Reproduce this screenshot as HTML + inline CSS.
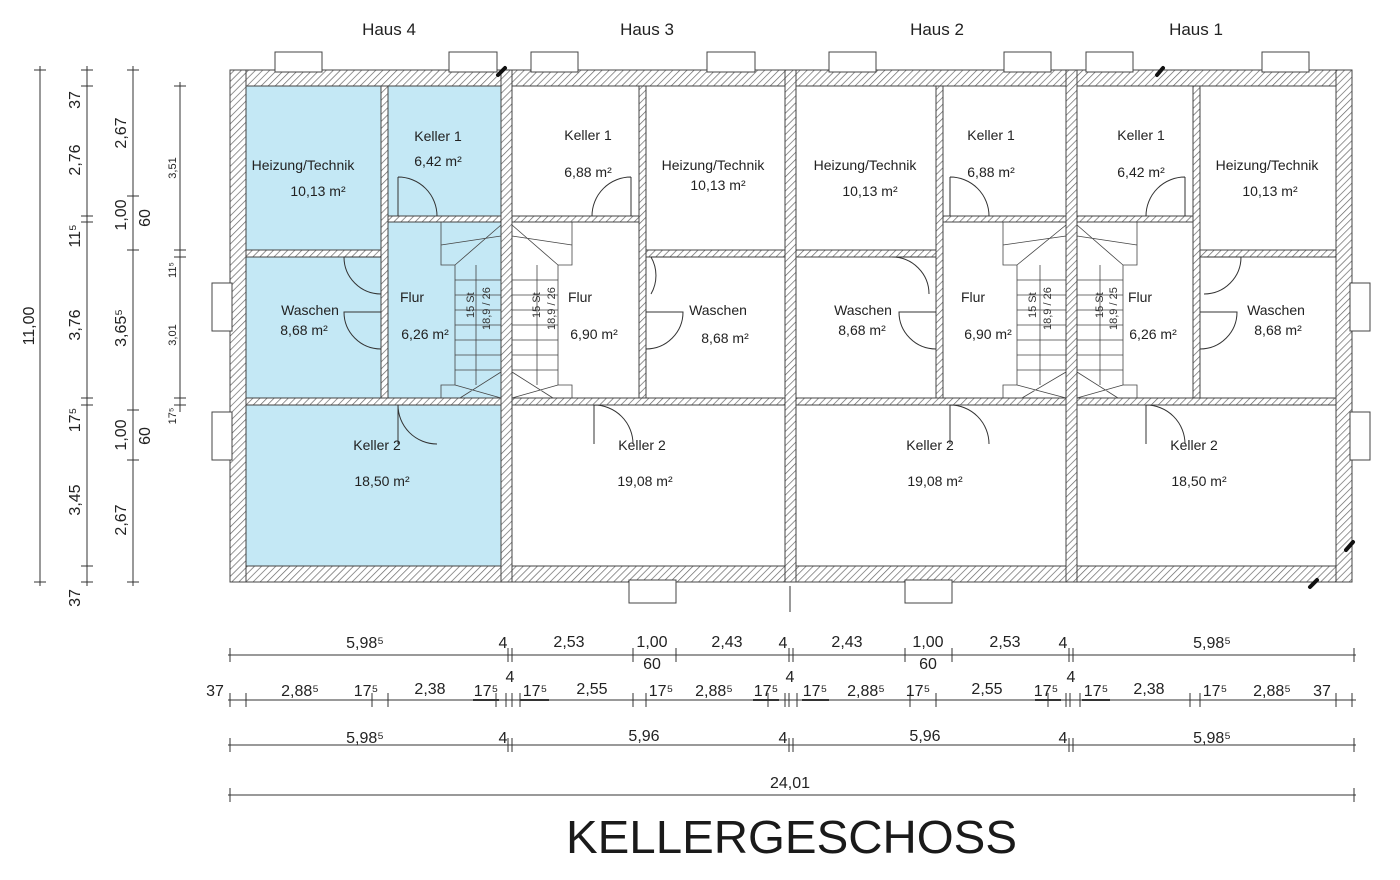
<!DOCTYPE html>
<html><head><meta charset="utf-8"><style>
body{margin:0;background:#fff;}
svg{display:block;font-family:"Liberation Sans",sans-serif;}
</style></head><body>
<svg width="1400" height="880" viewBox="0 0 1400 880">
<defs>
<pattern id="h" width="5" height="5" patternUnits="userSpaceOnUse" patternTransform="rotate(45)">
<rect width="5" height="5" fill="#fff"/><line x1="0" y1="0" x2="0" y2="5" stroke="#666" stroke-width="1.4"/>
</pattern>
</defs>
<rect x="230" y="70" width="272" height="512" fill="#c4e8f5"/>
<g fill="url(#h)" stroke="#444" stroke-width="1">
<rect x="230" y="70" width="1122" height="16"/>
<rect x="230" y="566" width="1122" height="16"/>
<rect x="230" y="70" width="16" height="512"/>
<rect x="1336" y="70" width="16" height="512"/>
<rect x="501" y="70" width="11" height="512"/>
<rect x="785" y="70" width="11" height="512"/>
<rect x="1066" y="70" width="11" height="512"/>
<rect x="381" y="86" width="7" height="319"/>
<rect x="388" y="216" width="113" height="6"/>
<rect x="246" y="250" width="135" height="7"/>
<rect x="246" y="398" width="255" height="7"/>
<rect x="639" y="86" width="7" height="319"/>
<rect x="512" y="216" width="127" height="6"/>
<rect x="646" y="250" width="139" height="7"/>
<rect x="512" y="398" width="273" height="7"/>
<rect x="936" y="86" width="7" height="319"/>
<rect x="943" y="216" width="123" height="6"/>
<rect x="796" y="250" width="140" height="7"/>
<rect x="796" y="398" width="270" height="7"/>
<rect x="1193" y="86" width="7" height="319"/>
<rect x="1077" y="216" width="116" height="6"/>
<rect x="1200" y="250" width="136" height="7"/>
<rect x="1077" y="398" width="259" height="7"/>
</g>
<g stroke="#111" stroke-width="4" stroke-linecap="round">
<path d="M498 75 L505 68 M1157 75 L1163 68 M1346 550 L1353 542 M1310 587 L1317 580"/>
</g>
<g fill="#fff" stroke="#444" stroke-width="1">
<rect x="275" y="52" width="47" height="20"/><rect x="449" y="52" width="48" height="20"/>
<rect x="531" y="52" width="47" height="20"/><rect x="707" y="52" width="48" height="20"/>
<rect x="829" y="52" width="47" height="20"/><rect x="1004" y="52" width="47" height="20"/>
<rect x="1086" y="52" width="47" height="20"/><rect x="1262" y="52" width="47" height="20"/>
<rect x="212" y="283" width="20" height="48"/><rect x="212" y="412" width="20" height="48"/>
<rect x="1350" y="283" width="20" height="48"/><rect x="1350" y="412" width="20" height="48"/>
<rect x="629" y="580" width="47" height="23"/><rect x="905" y="580" width="47" height="23"/>
</g>
<g fill="none" stroke="#333" stroke-width="1">
<path d="M398 177 L398 216 M398 177 A39 39 0 0 1 437 216"/>
<path d="M344 257 L381 257 M344 257 A37 37 0 0 0 381 294"/>
<path d="M381 312 L344 312 A37 37 0 0 0 381 349"/>
<path d="M398 405 L398 444 M398 405 A39 39 0 0 0 437 444"/>
<path d="M631 177 L631 216 M631 177 A39 39 0 0 0 592 216"/>
<path d="M651 257 L688 257 M651 257 A37 37 0 0 1 651 294"/>
<path d="M646 312 L683 312 A37 37 0 0 1 646 349"/>
<path d="M594 405 L594 444 M594 405 A39 39 0 0 1 633 444"/>
<path d="M950 177 L950 216 M950 177 A39 39 0 0 1 989 216"/>
<path d="M929 257 L892 257 A37 37 0 0 1 929 294"/>
<path d="M936 312 L899 312 A37 37 0 0 0 936 349"/>
<path d="M950 405 L950 444 M950 405 A39 39 0 0 1 989 444"/>
<path d="M1185 177 L1185 216 M1185 177 A39 39 0 0 0 1146 216"/>
<path d="M1204 257 L1241 257 A37 37 0 0 1 1204 294"/>
<path d="M1200 312 L1237 312 A37 37 0 0 1 1200 349"/>
<path d="M1146 405 L1146 444 M1146 405 A39 39 0 0 1 1185 444"/>
</g>
<g fill="none" stroke="#444" stroke-width="0.8">
<path d="M441 222 L441 265 L455 265 L455 385 L441 385 L441 398 M455 280 H501 M455 295 H501 M455 310 H501 M455 325 H501 M455 340 H501 M455 355 H501 M455 370 H501 M476 265 V385 M455 265 L501 225 M441 245 L501 236 M455 385 L501 398 M460 398 L501 372"/>
<path d="M572 222 L572 265 L558 265 L558 385 L572 385 L572 398 M512 280 H558 M512 295 H558 M512 310 H558 M512 325 H558 M512 340 H558 M512 355 H558 M512 370 H558 M537 265 V385 M558 265 L512 225 M572 245 L512 236 M558 385 L512 398 M553 398 L512 372"/>
<path d="M1003 222 L1003 265 L1017 265 L1017 385 L1003 385 L1003 398 M1017 280 H1066 M1017 295 H1066 M1017 310 H1066 M1017 325 H1066 M1017 340 H1066 M1017 355 H1066 M1017 370 H1066 M1040 265 V385 M1017 265 L1066 225 M1003 245 L1066 236 M1017 385 L1066 398 M1022 398 L1066 372"/>
<path d="M1137 222 L1137 265 L1123 265 L1123 385 L1137 385 L1137 398 M1077 280 H1123 M1077 295 H1123 M1077 310 H1123 M1077 325 H1123 M1077 340 H1123 M1077 355 H1123 M1077 370 H1123 M1100 265 V385 M1123 265 L1077 225 M1137 245 L1077 236 M1123 385 L1077 398 M1118 398 L1077 372"/>
</g>
<g font-size="11" fill="#333">
<text transform="translate(474,318) rotate(-90)">15 St</text><text transform="translate(490,330) rotate(-90)">18,9 / 26</text>
<text transform="translate(540,318) rotate(-90)">15 St</text><text transform="translate(555,330) rotate(-90)">18,9 / 26</text>
<text transform="translate(1036,318) rotate(-90)">15 St</text><text transform="translate(1051,330) rotate(-90)">18,9 / 26</text>
<text transform="translate(1103,318) rotate(-90)">15 St</text><text transform="translate(1117,330) rotate(-90)">18,9 / 25</text>
</g>
<g font-size="17" fill="#222" text-anchor="middle">
<text x="389" y="35">Haus 4</text><text x="647" y="35">Haus 3</text><text x="937" y="35">Haus 2</text><text x="1196" y="35">Haus 1</text>
</g>
<g font-size="14" fill="#222" text-anchor="middle">
<text x="303" y="170">Heizung/Technik</text><text x="318" y="196">10,13 m²</text>
<text x="438" y="141">Keller 1</text><text x="438" y="166">6,42 m²</text>
<text x="310" y="315">Waschen</text><text x="304" y="335">8,68 m²</text>
<text x="412" y="302">Flur</text><text x="425" y="339">6,26 m²</text>
<text x="377" y="450">Keller 2</text><text x="382" y="486">18,50 m²</text>
<text x="588" y="140">Keller 1</text><text x="588" y="177">6,88 m²</text>
<text x="713" y="170">Heizung/Technik</text><text x="718" y="190">10,13 m²</text>
<text x="580" y="302">Flur</text><text x="594" y="339">6,90 m²</text>
<text x="718" y="315">Waschen</text><text x="725" y="343">8,68 m²</text>
<text x="642" y="450">Keller 2</text><text x="645" y="486">19,08 m²</text>
<text x="865" y="170">Heizung/Technik</text><text x="870" y="196">10,13 m²</text>
<text x="991" y="140">Keller 1</text><text x="991" y="177">6,88 m²</text>
<text x="863" y="315">Waschen</text><text x="862" y="335">8,68 m²</text>
<text x="973" y="302">Flur</text><text x="988" y="339">6,90 m²</text>
<text x="930" y="450">Keller 2</text><text x="935" y="486">19,08 m²</text>
<text x="1141" y="140">Keller 1</text><text x="1141" y="177">6,42 m²</text>
<text x="1267" y="170">Heizung/Technik</text><text x="1270" y="196">10,13 m²</text>
<text x="1140" y="302">Flur</text><text x="1153" y="339">6,26 m²</text>
<text x="1276" y="315">Waschen</text><text x="1278" y="335">8,68 m²</text>
<text x="1194" y="450">Keller 2</text><text x="1199" y="486">18,50 m²</text>
</g>
<g stroke="#333" stroke-width="1">
<line x1="40" y1="66" x2="40" y2="586"/><line x1="87" y1="66" x2="87" y2="586"/><line x1="133" y1="66" x2="133" y2="586"/><line x1="180" y1="82" x2="180" y2="412"/>
<g stroke-width="1">
<line x1="34" y1="70" x2="46" y2="70"/><line x1="34" y1="582" x2="46" y2="582"/>
<line x1="81" y1="70" x2="93" y2="70"/><line x1="81" y1="86" x2="93" y2="86"/><line x1="81" y1="216" x2="93" y2="216"/><line x1="81" y1="222" x2="93" y2="222"/><line x1="81" y1="398" x2="93" y2="398"/><line x1="81" y1="405" x2="93" y2="405"/><line x1="81" y1="566" x2="93" y2="566"/><line x1="81" y1="582" x2="93" y2="582"/>
<line x1="127" y1="70" x2="139" y2="70"/><line x1="127" y1="196" x2="139" y2="196"/><line x1="127" y1="250" x2="139" y2="250"/><line x1="127" y1="410" x2="139" y2="410"/><line x1="127" y1="460" x2="139" y2="460"/><line x1="127" y1="582" x2="139" y2="582"/>
<line x1="174" y1="86" x2="186" y2="86"/><line x1="174" y1="250" x2="186" y2="250"/><line x1="174" y1="257" x2="186" y2="257"/><line x1="174" y1="398" x2="186" y2="398"/><line x1="174" y1="405" x2="186" y2="405"/>
</g>
<line x1="228" y1="655" x2="1356" y2="655"/><line x1="228" y1="700" x2="1356" y2="700"/><line x1="228" y1="745" x2="1356" y2="745"/><line x1="228" y1="795" x2="1356" y2="795"/>
<g>
<path d="M230 648v14M508 648v14M512 648v14M633 648v14M676 648v14M789 648v14M793 648v14M905 648v14M952 648v14M1069 648v14M1073 648v14M1354 648v14"/>
<path d="M230 693v14M246 693v14M372 693v14M388 693v14M496 693v14M506 693v14M512 693v14M520 693v14M633 693v14M646 693v14M768 693v14M785 693v14M789 693v14M797 693v14M910 693v14M936 693v14M1048 693v14M1066 693v14M1070 693v14M1080 693v14M1190 693v14M1200 693v14M1336 693v14M1352 693v14"/>
<path d="M230 738v14M508 738v14M512 738v14M789 738v14M793 738v14M1069 738v14M1073 738v14M1354 738v14"/>
<path d="M230 788v14M1354 788v14"/>
</g>
<g stroke-width="2"><path d="M473 700h26M520 700h29M753 700h26M802 700h27M1035 700h26M1082 700h28"/></g>
<line x1="790" y1="586" x2="790" y2="612"/>
</g>
<g font-size="16" fill="#222" text-anchor="middle">
<text transform="translate(34,326) rotate(-90)">11,00</text>
<text transform="translate(80,100) rotate(-90)">37</text>
<text transform="translate(80,160) rotate(-90)">2,76</text>
<text transform="translate(80,236) rotate(-90)">11⁵</text>
<text transform="translate(80,325) rotate(-90)">3,76</text>
<text transform="translate(80,420) rotate(-90)">17⁵</text>
<text transform="translate(80,500) rotate(-90)">3,45</text>
<text transform="translate(80,598) rotate(-90)">37</text>
<text transform="translate(126,133) rotate(-90)">2,67</text>
<text transform="translate(126,215) rotate(-90)">1,00</text>
<text transform="translate(150,218) rotate(-90)">60</text>
<text transform="translate(126,328) rotate(-90)">3,65⁵</text>
<text transform="translate(126,435) rotate(-90)">1,00</text>
<text transform="translate(150,436) rotate(-90)">60</text>
<text transform="translate(126,520) rotate(-90)">2,67</text>
</g>
<g font-size="11" fill="#222" text-anchor="middle">
<text transform="translate(176,168) rotate(-90)">3,51</text>
<text transform="translate(176,270) rotate(-90)">11⁵</text>
<text transform="translate(176,335) rotate(-90)">3,01</text>
<text transform="translate(176,416) rotate(-90)">17⁵</text>
</g>
<g font-size="16" fill="#222" text-anchor="middle">
<text x="365" y="648">5,98⁵</text><text x="503" y="648">4</text><text x="569" y="647">2,53</text><text x="652" y="647">1,00</text><text x="652" y="669">60</text><text x="727" y="647">2,43</text><text x="783" y="648">4</text><text x="847" y="647">2,43</text><text x="928" y="647">1,00</text><text x="928" y="669">60</text><text x="1005" y="647">2,53</text><text x="1063" y="648">4</text><text x="1212" y="648">5,98⁵</text>
<text x="215" y="696">37</text><text x="300" y="696">2,88⁵</text><text x="366" y="696">17⁵</text><text x="430" y="694">2,38</text><text x="486" y="696">17⁵</text><text x="510" y="682">4</text><text x="535" y="696">17⁵</text><text x="592" y="694">2,55</text><text x="661" y="696">17⁵</text><text x="714" y="696">2,88⁵</text><text x="766" y="696">17⁵</text><text x="790" y="682">4</text><text x="815" y="696">17⁵</text><text x="866" y="696">2,88⁵</text><text x="918" y="696">17⁵</text><text x="987" y="694">2,55</text><text x="1046" y="696">17⁵</text><text x="1071" y="682">4</text><text x="1096" y="696">17⁵</text><text x="1149" y="694">2,38</text><text x="1215" y="696">17⁵</text><text x="1272" y="696">2,88⁵</text><text x="1322" y="696">37</text>
<text x="365" y="743">5,98⁵</text><text x="503" y="743">4</text><text x="644" y="741">5,96</text><text x="783" y="743">4</text><text x="925" y="741">5,96</text><text x="1063" y="743">4</text><text x="1212" y="743">5,98⁵</text>
<text x="790" y="788">24,01</text>
</g>
<text x="566" y="853" font-size="46" fill="#1a1a1a" textLength="451" lengthAdjust="spacingAndGlyphs">KELLERGESCHOSS</text>
</svg>
</body></html>
